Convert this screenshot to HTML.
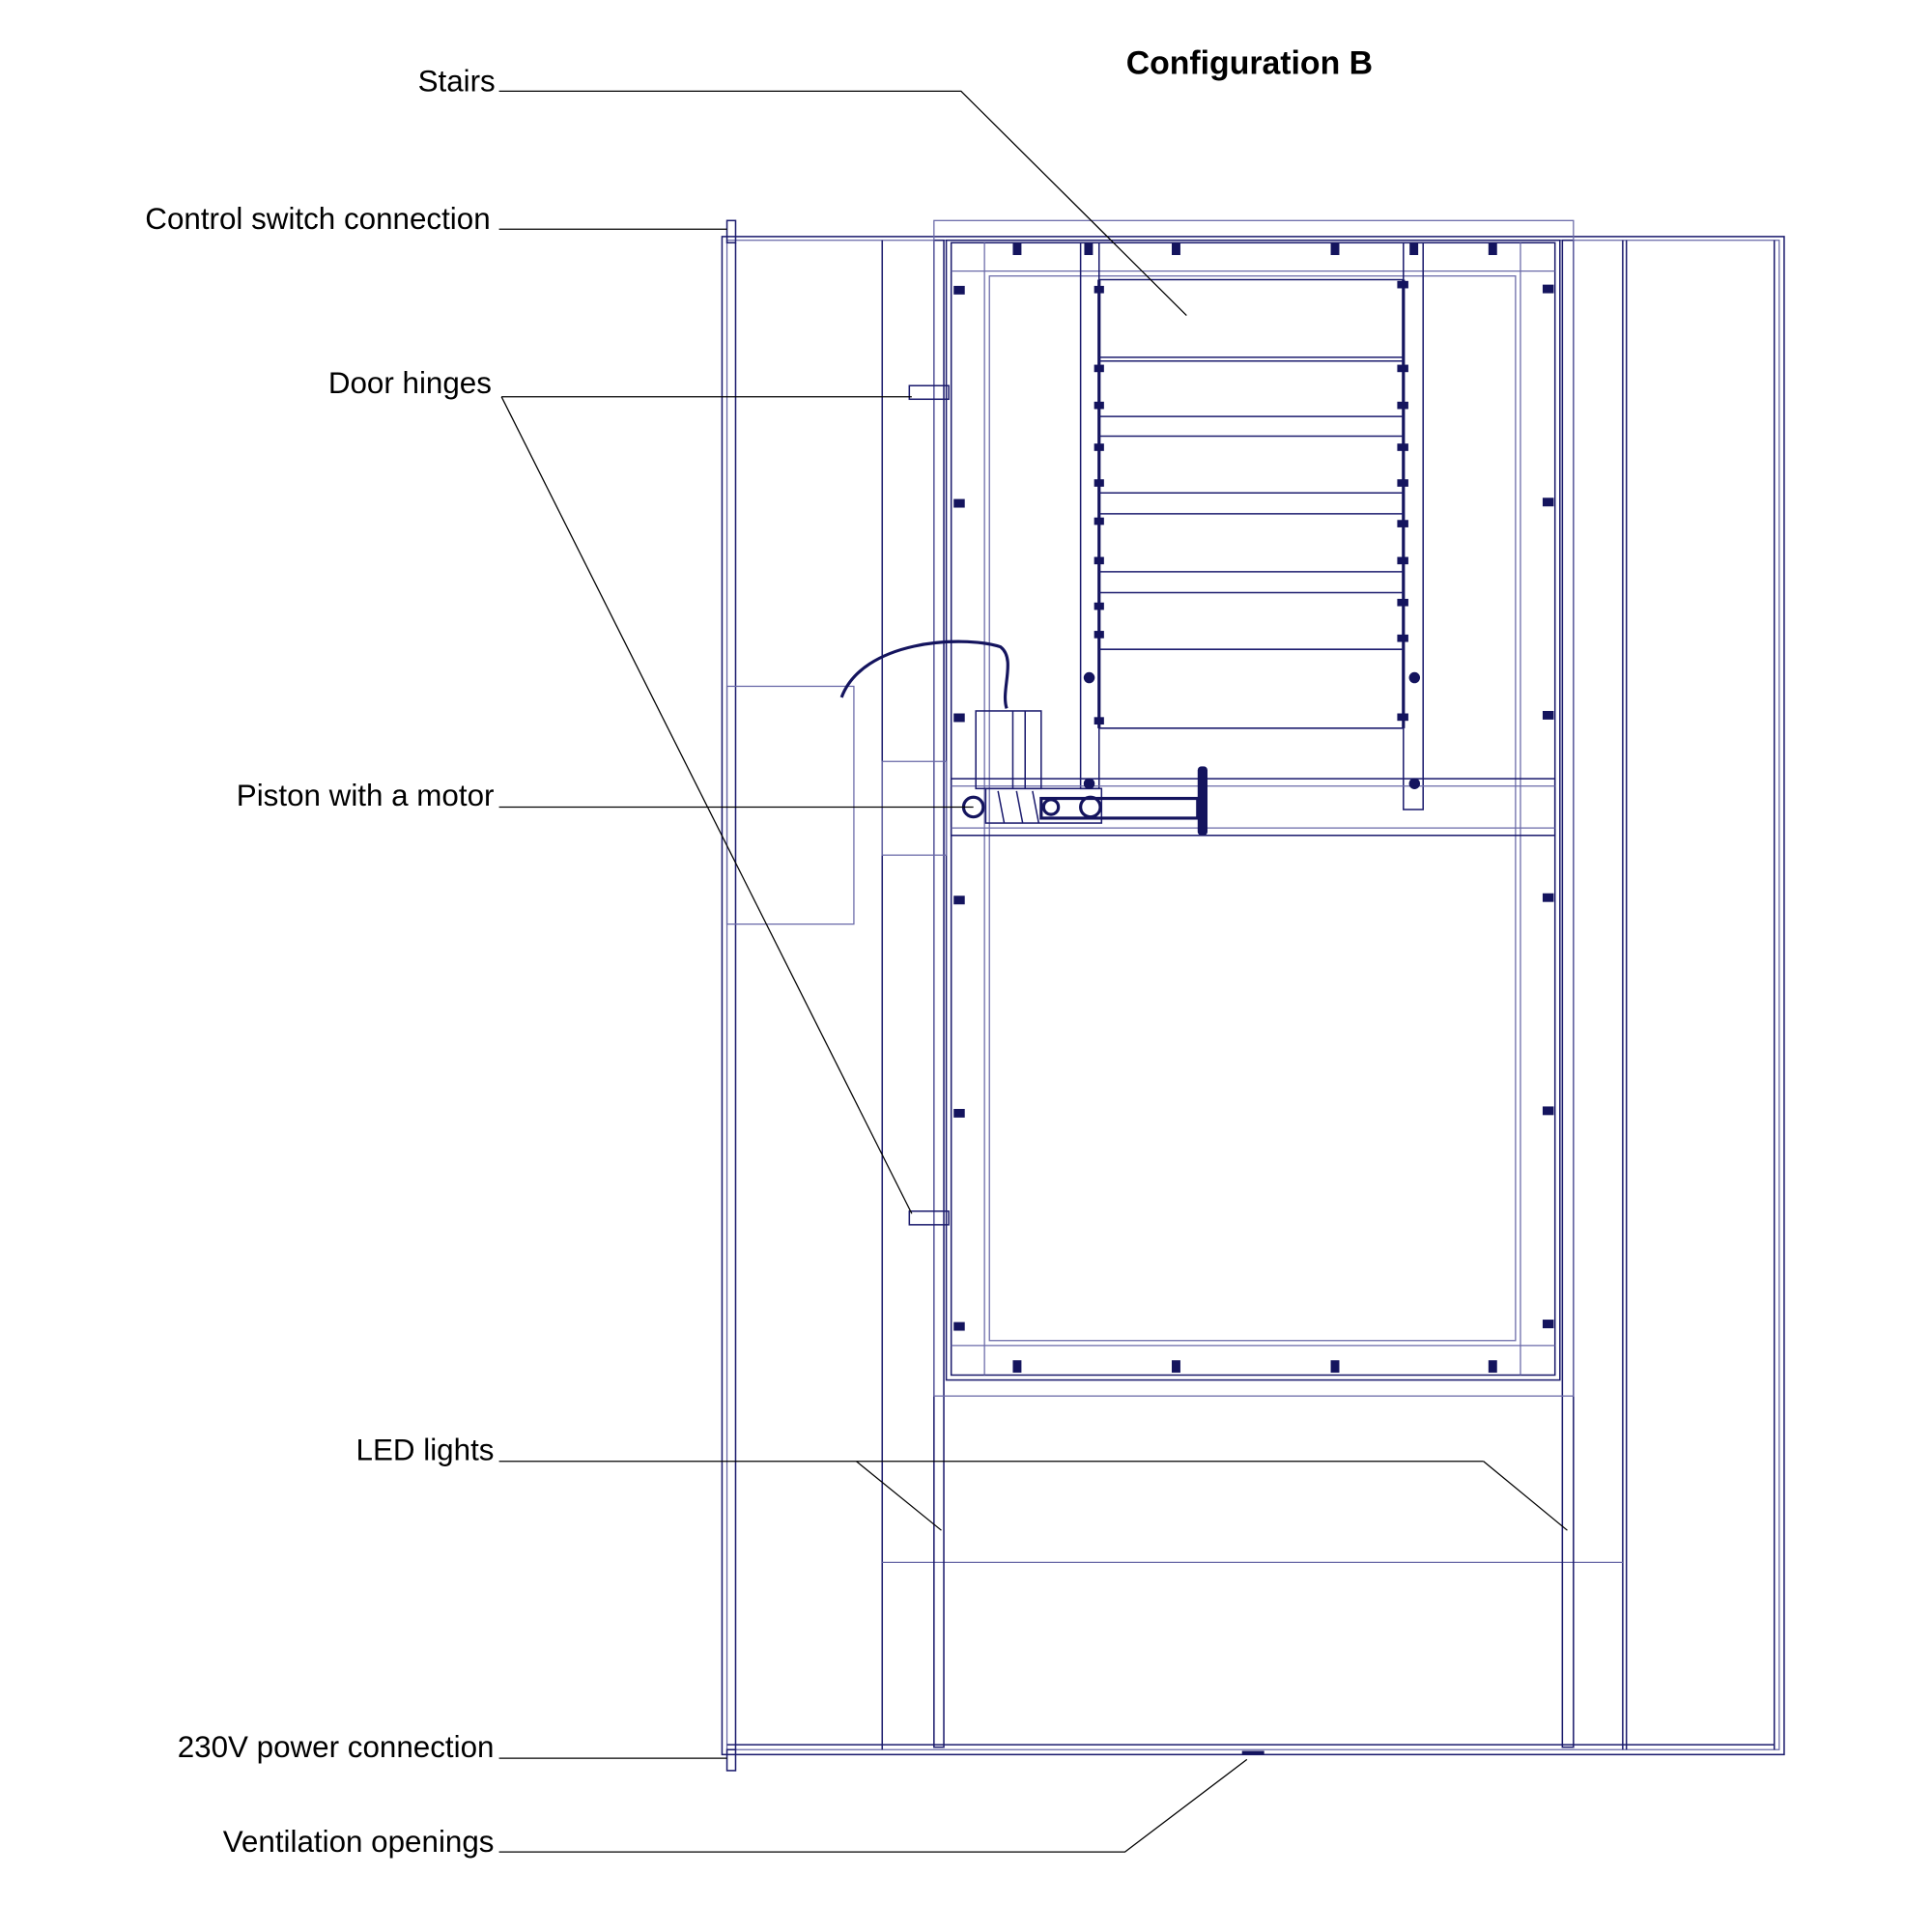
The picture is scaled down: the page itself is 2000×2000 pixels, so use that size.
<!DOCTYPE html>
<html><head><meta charset="utf-8"><style>
html,body{margin:0;padding:0;background:#fff;}
svg{display:block;}
text{font-family:"Liberation Sans",Arial,sans-serif;font-size:24.6px;fill:#000;}
.n{stroke:#1c1c6e;fill:none;stroke-width:1.2}
.t{stroke:#6a6aa8;fill:none;stroke-width:1}
.k{stroke:#14145e;fill:none;stroke-width:2.5}
.b{fill:#14145e}
.l{stroke:#000;stroke-width:1;fill:none}
</style></head><body>
<svg width="2000" height="2000" viewBox="0 0 1568 1568" xmlns="http://www.w3.org/2000/svg">
<text x="1014" y="60" text-anchor="middle" style="font-weight:bold;font-size:26.5px">Configuration B</text>
<text x="402" y="74" text-anchor="end">Stairs</text>
<text x="398" y="186" text-anchor="end">Control switch connection</text>
<text x="399" y="319" text-anchor="end">Door hinges</text>
<text x="401" y="654" text-anchor="end">Piston with a motor</text>
<text x="401" y="1185" text-anchor="end">LED lights</text>
<text x="401" y="1426" text-anchor="end">230V power connection</text>
<text x="401" y="1503" text-anchor="end">Ventilation openings</text>

<rect class="n" x="586" y="192" width="862" height="1232"/>
<rect class="t" x="590" y="195" width="854" height="1225"/>
<rect class="n" x="590" y="179" width="7" height="18"/>
<rect class="n" x="590" y="1420" width="7" height="17"/>
<line class="n" x1="597" y1="197" x2="597" y2="1420"/>
<line class="n" x1="716" y1="195" x2="716" y2="1420"/>
<line class="n" x1="1317" y1="195" x2="1317" y2="1420"/>
<line class="n" x1="1320" y1="195" x2="1320" y2="1420"/>
<line class="n" x1="1440" y1="195" x2="1440" y2="1420"/>
<line class="n" x1="590" y1="1416" x2="1440" y2="1416"/>
<line class="t" x1="716" y1="1268" x2="1317" y2="1268"/>
<rect class="n" x="758" y="195" width="8" height="1223"/>
<rect class="n" x="1268" y="195" width="9" height="1223"/>
<rect class="t" x="758" y="179" width="519" height="954"/>
<rect class="n" x="768" y="195" width="498" height="925"/>
<rect class="n" x="772" y="197" width="490" height="919"/>
<rect class="t" x="803" y="224" width="427" height="864"/>
<line class="t" x1="772" y1="220" x2="1262" y2="220"/>
<line class="t" x1="772" y1="1092" x2="1262" y2="1092"/>
<line class="t" x1="799" y1="197" x2="799" y2="1116"/>
<line class="t" x1="1234" y1="197" x2="1234" y2="1116"/>
<rect class="t" x="590" y="557" width="103" height="193"/>
<rect class="t" x="716" y="618" width="52" height="76"/>
<rect class="n" x="877" y="197" width="15" height="443"/>
<rect class="n" x="1139" y="197" width="16" height="460"/>
<line class="k" x1="892" y1="227" x2="892" y2="591"/>
<line class="k" x1="1139" y1="227" x2="1139" y2="591"/>
<g class="n">
<line x1="892" y1="227" x2="1139" y2="227"/>
<line x1="892" y1="290" x2="1139" y2="290"/><line x1="892" y1="293" x2="1139" y2="293"/>
<line x1="892" y1="338" x2="1139" y2="338"/><line x1="892" y1="354" x2="1139" y2="354"/>
<line x1="892" y1="400" x2="1139" y2="400"/><line x1="892" y1="417" x2="1139" y2="417"/>
<line x1="892" y1="464" x2="1139" y2="464"/><line x1="892" y1="481" x2="1139" y2="481"/>
<line x1="892" y1="527" x2="1139" y2="527"/><line x1="892" y1="591" x2="1139" y2="591"/>
</g>
<rect class="n" x="772" y="632" width="490" height="46"/>
<line class="t" x1="772" y1="638" x2="1262" y2="638"/>
<line class="t" x1="772" y1="672" x2="1262" y2="672"/>
<rect class="n" x="792" y="577" width="53" height="63"/>
<line class="n" x1="822" y1="577" x2="822" y2="640"/>
<line class="n" x1="832" y1="577" x2="832" y2="640"/>
<rect class="n" x="800" y="640" width="94" height="28"/>
<line class="n" x1="810" y1="642" x2="815" y2="668"/><line class="n" x1="825" y1="642" x2="830" y2="668"/><line class="n" x1="838" y1="642" x2="843" y2="668"/>
<rect class="k" x="845" y="648" width="127" height="16"/>
<rect class="b" x="972" y="622" width="8" height="56" rx="3"/>
<circle cx="885" cy="655" r="8" class="k"/>
<circle cx="790" cy="655" r="8" class="k"/>
<circle cx="853" cy="655" r="6" class="k"/>
<path class="k" d="M683 566 C700 520 780 515 812 525 C825 535 812 560 817 575"/>
<g class="b">
<rect x="822" y="197" width="7" height="10"/><rect x="951" y="197" width="7" height="10"/><rect x="1080" y="197" width="7" height="10"/><rect x="1208" y="197" width="7" height="10"/><rect x="880" y="197" width="7" height="10"/><rect x="1144" y="197" width="7" height="10"/>
<rect x="822" y="1104" width="7" height="10"/><rect x="951" y="1104" width="7" height="10"/><rect x="1080" y="1104" width="7" height="10"/><rect x="1208" y="1104" width="7" height="10"/>
<rect x="774" y="232" width="9" height="7"/><rect x="774" y="405" width="9" height="7"/><rect x="774" y="579" width="9" height="7"/><rect x="774" y="727" width="9" height="7"/><rect x="774" y="900" width="9" height="7"/><rect x="774" y="1073" width="9" height="7"/>
<rect x="1252" y="231" width="9" height="7"/><rect x="1252" y="404" width="9" height="7"/><rect x="1252" y="577" width="9" height="7"/><rect x="1252" y="725" width="9" height="7"/><rect x="1252" y="898" width="9" height="7"/><rect x="1252" y="1071" width="9" height="7"/>
<rect x="888" y="232" width="8" height="6"/><rect x="888" y="296" width="8" height="6"/><rect x="888" y="326" width="8" height="6"/><rect x="888" y="360" width="8" height="6"/><rect x="888" y="389" width="8" height="6"/><rect x="888" y="420" width="8" height="6"/><rect x="888" y="452" width="8" height="6"/><rect x="888" y="489" width="8" height="6"/><rect x="888" y="512" width="8" height="6"/><rect x="888" y="582" width="8" height="6"/>
<rect x="1134" y="228" width="9" height="6"/><rect x="1134" y="296" width="9" height="6"/><rect x="1134" y="326" width="9" height="6"/><rect x="1134" y="360" width="9" height="6"/><rect x="1134" y="389" width="9" height="6"/><rect x="1134" y="422" width="9" height="6"/><rect x="1134" y="452" width="9" height="6"/><rect x="1134" y="486" width="9" height="6"/><rect x="1134" y="515" width="9" height="6"/><rect x="1134" y="579" width="9" height="6"/>
<circle cx="884" cy="550" r="4.5"/><circle cx="1148" cy="550" r="4.5"/><circle cx="884" cy="636" r="4.5"/><circle cx="1148" cy="636" r="4.5"/>
<rect x="1008" y="1421" width="18" height="3"/>
</g>
<rect class="n" x="738" y="313" width="32" height="11"/>
<rect class="n" x="738" y="983" width="32" height="11"/>
<polyline class="l" points="405,74 780,74 963,256"/>
<line class="l" x1="405" y1="186" x2="590" y2="186"/>
<line class="l" x1="407" y1="322" x2="740" y2="322"/>
<line class="l" x1="407" y1="322" x2="740" y2="985"/>
<line class="l" x1="405" y1="655" x2="790" y2="655"/>
<line class="l" x1="405" y1="1186" x2="1204" y2="1186"/>
<line class="l" x1="695" y1="1186" x2="764" y2="1242"/>
<line class="l" x1="1204" y1="1186" x2="1272" y2="1242"/>
<line class="l" x1="405" y1="1427" x2="590" y2="1427"/>
<polyline class="l" points="405,1503 913,1503 1012,1428"/>
</svg>
</body></html>
